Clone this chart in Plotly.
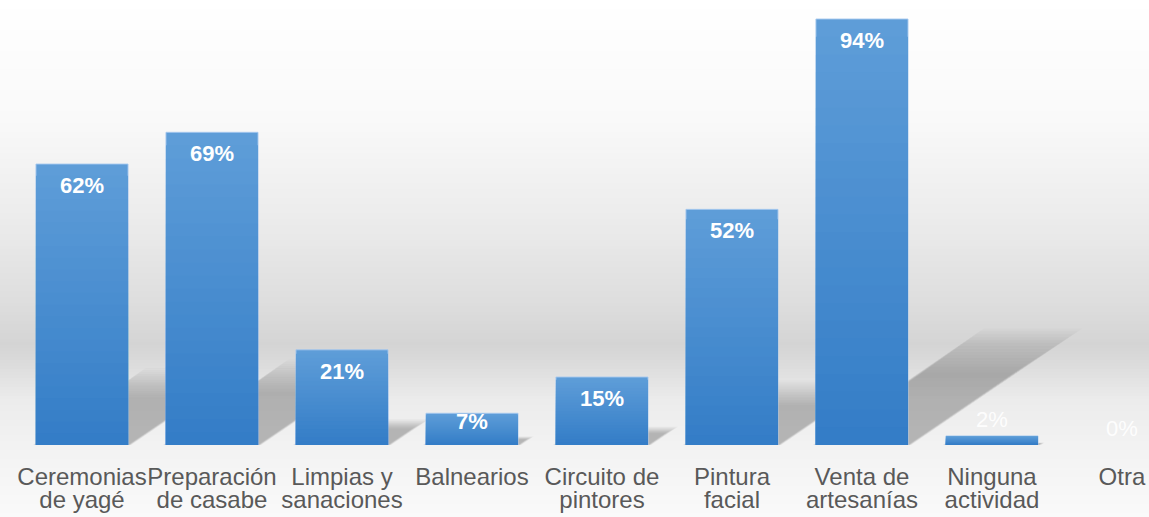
import plotly.graph_objects as go

# ── Datos ────────────────────────────────────────────────────────────────────
CATEGORIES = [
    "Ceremonias<br>de yagé",
    "Preparación<br>de casabe",
    "Limpias y<br>sanaciones",
    "Balnearios",
    "Circuito de<br>pintores",
    "Pintura<br>facial",
    "Venta de<br>artesanías",
    "Ninguna<br>actividad",
    "Otra",
]
VALUES = [62, 69, 21, 7, 15, 52, 94, 2, 0]
LABELS = [f"{v}%" for v in VALUES]

# ── Estilo ───────────────────────────────────────────────────────────────────
_FONT = "Liberation Sans, Arial, sans-serif"
_TOP_BLUE = (94, 157, 216)
_BOTTOM_BLUE = (52, 125, 199)
_N_BANDS = 24
_BAR_HALF = 0.354

idx = list(range(len(CATEGORIES)))
line1 = [c.split("<br>")[0] for c in CATEGORIES]
line2 = [c.split("<br>")[1] if "<br>" in c else "" for c in CATEGORIES]


def _lerp(a, b, t):
    return tuple(round(a[i] + (b[i] - a[i]) * t) for i in range(3))


fig = go.Figure()

# barras con degradado (bandas superpuestas, claro arriba, oscuro abajo)
for k in range(_N_BANDS):
    frac = 1 - k / _N_BANDS
    c = _lerp(_TOP_BLUE, _BOTTOM_BLUE, k / (_N_BANDS - 1))
    fig.add_trace(go.Bar(
        x=idx,
        y=[v * frac for v in VALUES],
        width=2 * _BAR_HALF,
        marker=dict(
            color=f"rgb{c}",
            line=dict(
                color="rgba(165,200,238,0.9)" if k == 0 else "rgba(0,0,0,0)",
                width=[1 if (k == 0 and v > 0) else 0 for v in VALUES],
            ),
        ),
        hoverinfo="skip",
        showlegend=False,
    ))

# traza invisible para el segundo renglón de etiquetas
fig.add_trace(go.Scatter(
    x=idx, y=VALUES, xaxis="x2", mode="markers",
    marker=dict(opacity=0), hoverinfo="skip", showlegend=False,
))

shapes = []

# fondo degradado
_BG_STOPS = [(0, 255), (120, 249), (230, 234), (300, 222), (345, 212),
             (365, 220), (400, 236), (445, 242), (517, 250)]
_PLOT_H = 445


def _gray_at(py):
    for (p0, g0), (p1, g1) in zip(_BG_STOPS[:-1], _BG_STOPS[1:]):
        if p0 <= py <= p1:
            return round(g0 + (g1 - g0) * (py - p0) / (p1 - p0))
    return 250


step = 3
for py in range(0, 517, step):
    g = _gray_at(py + step / 2)
    shapes.append(dict(
        type="rect", xref="paper", yref="paper", layer="below",
        x0=-0.05, x1=1.05,
        y0=(_PLOT_H - py - step) / _PLOT_H, y1=(_PLOT_H - py) / _PLOT_H,
        fillcolor=f"rgb({g},{g},{g})", line=dict(width=0),
    ))

# sombras en perspectiva (diagonal arriba a la derecha), capas para difuminar
_SHADOW_LAYERS = [0.74 + 0.03 * n for n in range(16)]
for i, v in zip(idx, VALUES):
    if v <= 0:
        continue
    for f in _SHADOW_LAYERS:
        h = 0.23 * v * f
        dx = 0.0512 * h
        grow = 0.06 * (f - 0.74)
        x0, x1 = i - _BAR_HALF - grow, i + _BAR_HALF + grow
        shapes.append(dict(
            type="path", xref="x", yref="y", layer="below",
            path=f"M {x0},0 L {x1},0 L {x1 + dx},{h} L {x0 + dx},{h} Z",
            fillcolor="rgba(0,0,0,0.014)", line=dict(width=0),
        ))

# etiquetas de datos
annotations = []
for i, v, t in zip(idx, VALUES, LABELS):
    if v < 5:
        annotations.append(dict(
            x=i, y=v, xref="x", yref="y", text=t, showarrow=False,
            yanchor="bottom", yshift=2,
            font=dict(family=_FONT, size=22, color="rgba(255,255,255,0.9)"),
        ))
    else:
        annotations.append(dict(
            x=i, y=v, xref="x", yref="y", text=f"<b>{t}</b>", showarrow=False,
            yanchor="top", yshift=6 if v < 10 else -7,
            font=dict(family=_FONT, size=22, color="white"),
        ))

x_range = [-0.5, 8.208]
tick_font = dict(family=_FONT, size=24, color="#595959")

fig.update_layout(
    barmode="overlay",
    width=1149,
    height=517,
    margin=dict(l=17, r=0, t=0, b=72, pad=0),
    paper_bgcolor="white",
    plot_bgcolor="rgba(0,0,0,0)",
    shapes=shapes,
    annotations=annotations,
    xaxis=dict(
        range=x_range, tickmode="array", tickvals=idx, ticktext=line1,
        tickangle=0, showgrid=False, zeroline=False, showline=False,
        ticks="", ticklabelstandoff=15, tickfont=tick_font,
    ),
    xaxis2=dict(
        range=x_range, overlaying="x", anchor="y", side="bottom",
        tickmode="array", tickvals=idx, ticktext=line2,
        tickangle=0, showgrid=False, zeroline=False, showline=False,
        ticks="", ticklabelstandoff=38, tickfont=tick_font,
    ),
    yaxis=dict(
        range=[0, 98.2], visible=False, showgrid=False, zeroline=False,
    ),
)

fig.write_html(
    "out.html",
    config={"displayModeBar": False},
    post_script="document.body.style.margin='0';",
)
